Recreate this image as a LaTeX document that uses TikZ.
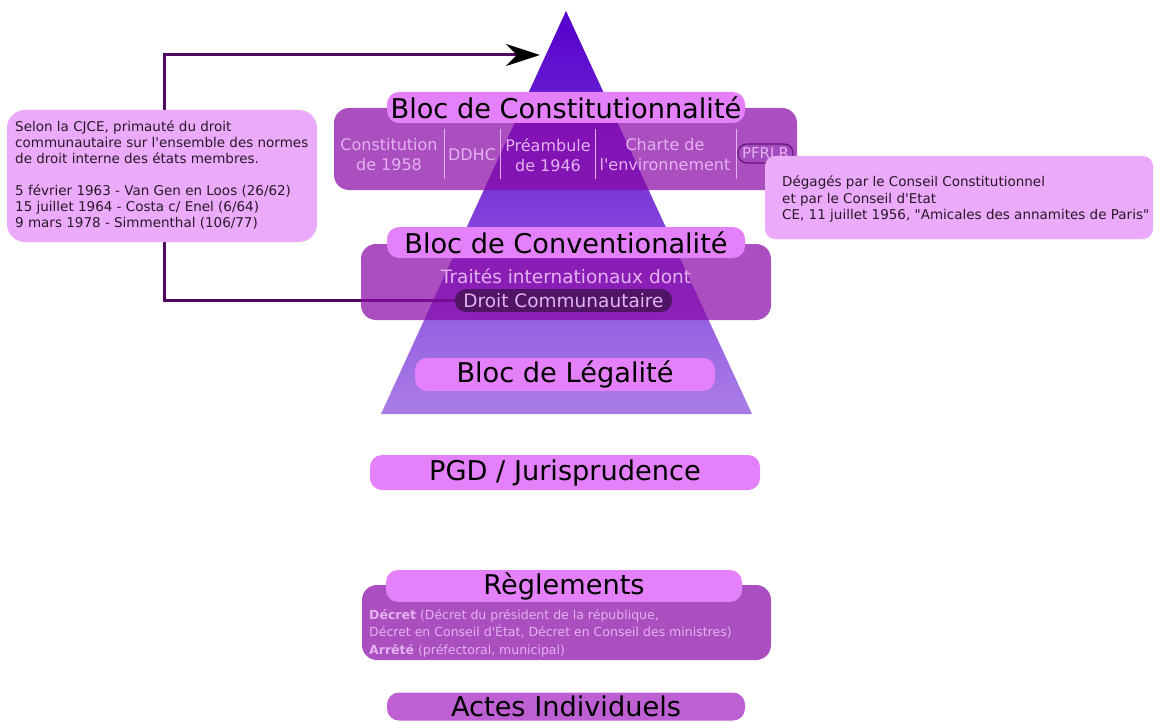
\documentclass[tikz,border=0pt]{standalone}
\usepackage{fontspec}
\setmainfont{DejaVu Sans}[Ligatures=TeXOff]
\usetikzlibrary{arrows.meta}
\definecolor{pill}{RGB}{228,128,250}
\definecolor{boxc}{RGB}{137,10,168}
\definecolor{boxtext}{RGB}{228,178,240}
\definecolor{notec}{RGB}{236,170,250}
\definecolor{connc}{RGB}{75,10,95}
\definecolor{darkpill}{RGB}{80,20,100}
\definecolor{actes}{RGB}{190,95,212}
\definecolor{tritop}{RGB}{85,0,204}
\definecolor{tribot}{RGB}{170,125,230}
\definecolor{notetext}{RGB}{40,25,40}
\pgfdeclarelayer{bg}
\pgfdeclarelayer{conn}
\pgfsetlayers{bg,conn,main}
\begin{document}
\begin{tikzpicture}[x=1pt,y=-1pt,
  pillbox/.style={fill=pill, rounded corners=12pt, inner sep=0pt, text=black,
    font=\fontsize{27.2}{30}\selectfont},
  bigbox/.style={fill=boxc, fill opacity=0.72, text opacity=1, rounded corners=15pt, inner sep=0pt},
  coltext/.style={text=boxtext, align=center, inner sep=0pt, font=\fontsize{16}{20}\selectfont},
  sepline/.style={draw=boxtext, line width=0.8pt},
  notebox/.style={fill=notec, inner sep=0pt},
  notetxt/.style={text=notetext, align=left, inner sep=0pt, anchor=north west},
  connector/.style={draw=connc, line width=3pt}
]
\useasboundingbox (0,0) rectangle (1155,722);

% pyramid
\begin{pgfonlayer}{bg}
\shade[top color=tritop, bottom color=tribot] (566,11) -- (752,414) -- (381,414) -- cycle;
\end{pgfonlayer}

% Bloc de Constitutionnalite
\node[bigbox, minimum width=463pt, minimum height=82pt] (constbox) at (565.5,149) {};
\node[coltext] (c1958) at (389,155) {Constitution\\de 1958};
\node[coltext] (ddhc) at (472,155) {DDHC};
\node[coltext] (c1946) at (548,155) {Préambule\\de 1946};
\node[coltext] (charte) at (665,155) {Charte de\\l'environnement};
\coordinate (s1t) at (444,129); \coordinate (s1b) at (444,179);
\coordinate (s2t) at (500,129); \coordinate (s2b) at (500,179);
\coordinate (s3t) at (595,129); \coordinate (s3b) at (595,179);
\coordinate (s4t) at (736,129); \coordinate (s4b) at (736,179);
\draw[sepline] (s1t) -- (s1b);
\draw[sepline] (s2t) -- (s2b);
\draw[sepline] (s3t) -- (s3b);
\draw[sepline] (s4t) -- (s4b);
\node[fill={rgb,255:red,165;green,75;blue,192}, draw={rgb,255:red,100;green,20;blue,120}, line width=1.2pt,
  rounded corners=9pt, minimum width=55pt, minimum height=19pt, inner sep=0pt,
  text=boxtext, font=\fontsize{15}{16}\selectfont] (pfrlr) at (765.5,153.5) {PFRLR};
\node[pillbox, minimum width=358pt, minimum height=31pt] (constpill) at (566,107.5) {Bloc de Constitutionnalité};

% right note
\node[notebox, rounded corners=10pt, minimum width=388pt, minimum height=83pt] (rnote) at (959,197.5) {};
\node[notetxt, font=\fontsize{13.5}{16.5}\selectfont] (rtext) at (782,176)
  {Dégagés par le Conseil Constitutionnel\\et par le Conseil d'Etat\\CE, 11 juillet 1956, "Amicales des annamites de Paris"};

% Bloc de Conventionalite
\node[bigbox, minimum width=410pt, minimum height=76pt] (convbox) at (566,282) {};
\node[coltext, font=\fontsize{18.5}{22}\selectfont] (traites) at (566,276) {Traités internationaux dont};
\node[fill=darkpill, rounded corners=11pt, minimum width=217pt, minimum height=23pt, inner sep=0pt,
  text=boxtext, font=\fontsize{18.5}{22}\selectfont] (droit) at (563.5,300.5) {Droit Communautaire};
\node[pillbox, minimum width=358pt, minimum height=31pt] (convpill) at (566,242.5) {Bloc de Conventionalité};

% left note
\node[notebox, rounded corners=18pt, minimum width=310pt, minimum height=132pt] (lnote) at (162,176) {};
\node[notetxt, font=\fontsize{13.5}{16}\selectfont] (ltext) at (15,121)
  {Selon la CJCE, primauté du droit\\communautaire sur l'ensemble des normes\\de droit interne des états membres.\\[16pt]5 février 1963 - Van Gen en Loos (26/62)\\15 juillet 1964 - Costa c/ Enel (6/64)\\9 mars 1978 - Simmenthal (106/77)};

% connector
\coordinate (turn) at (164,55);
\coordinate (tip) at (540,55);
\begin{pgfonlayer}{conn}
\draw[connector, -{Stealth[length=34pt,width=22pt,inset=11pt,color=black,fill=black]}] (droit.west) -| (turn) -- (tip);
\end{pgfonlayer}

% Bloc de Legalite
\node[pillbox, minimum width=300pt, minimum height=33pt] (legal) at (565,374.5) {Bloc de Légalité};

% PGD
\node[pillbox, minimum width=390pt, minimum height=35pt] (pgd) at (565,472.5) {PGD / Jurisprudence};

% Reglements
\node[bigbox, minimum width=409pt, minimum height=75pt] (reglbox) at (566.5,622.5) {};
\node[notetxt, text=boxtext, font=\fontsize{12.5}{17.5}\selectfont] (regltext) at (369,609)
  {\textbf{Décret} (Décret du président de la république,\\Décret en Conseil d'État, Décret en Conseil des ministres)\\\textbf{Arrêté} (préfectoral, municipal)};
\node[pillbox, minimum width=356pt, minimum height=32pt] (reglpill) at (564,586) {Règlements};

% Actes individuels
\node[pillbox, fill=actes, minimum width=358pt, minimum height=28pt] (actes) at (566,706.5) {Actes Individuels};
\end{tikzpicture}
\end{document}
